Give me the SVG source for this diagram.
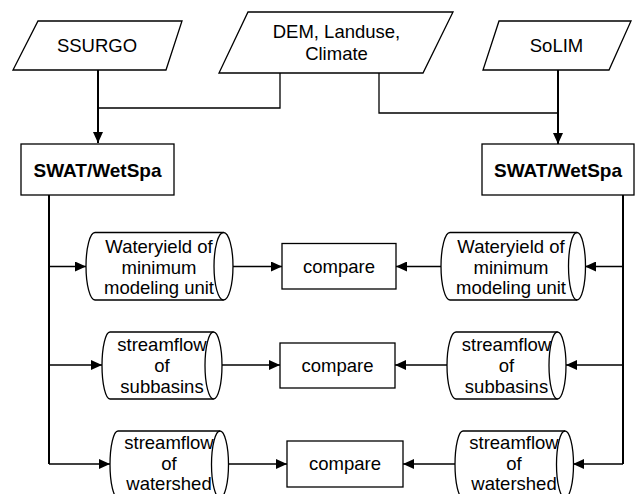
<svg xmlns="http://www.w3.org/2000/svg" width="636" height="494" viewBox="0 0 636 494">
<style>
.s{fill:#fff;stroke:#000;stroke-width:1.3}
.i{fill:none;stroke:#000;stroke-width:1.3}
.t{font-family:"Liberation Sans",Arial,sans-serif;font-size:18.5px;fill:#000;text-anchor:middle}
.b{font-weight:bold;font-size:19px}
.c{fill:none;stroke:#000;stroke-width:1.3}
.m{fill:none;stroke:#000;stroke-width:2}
</style>
<defs>
<marker id="ah" viewBox="0 0 11 10" refX="11" refY="5" markerWidth="11" markerHeight="10" markerUnits="userSpaceOnUse" orient="auto">
<path d="M0,0 L11,5 L0,10 Z" fill="#000"/>
</marker>
</defs>
<g id="connectors">
<path class="c" d="M280 73 V108 H98"/>
<path class="m" d="M98 70 V143" marker-end="url(#ah)"/>
<path class="c" d="M379 73 V113 H558"/>
<path class="m" d="M558 70 V144" marker-end="url(#ah)"/>
<path class="m" d="M49 195 V464"/>
<path class="c" d="M49 464 H110" marker-end="url(#ah)"/>
<path class="c" d="M49 266.5 H86" marker-end="url(#ah)"/>
<path class="c" d="M49 365 H102" marker-end="url(#ah)"/>
<path class="m" d="M623 195 V464"/>
<path class="c" d="M623 464 H573" marker-end="url(#ah)"/>
<path class="c" d="M623 266.5 H585" marker-end="url(#ah)"/>
<path class="c" d="M623 365 H566" marker-end="url(#ah)"/>
<path class="c" d="M233 266.5 H282" marker-end="url(#ah)"/>
<path class="c" d="M222 365 H280" marker-end="url(#ah)"/>
<path class="c" d="M228 464 H287" marker-end="url(#ah)"/>
<path class="c" d="M441 266.5 H396" marker-end="url(#ah)"/>
<path class="c" d="M447 365 H395" marker-end="url(#ah)"/>
<path class="c" d="M455 464 H403" marker-end="url(#ah)"/>
</g>
<g id="ssurgo">
<polygon class="s" points="38,21 182,21 166,70 13,70"/>
<text class="t" x="97" y="52">SSURGO</text>
</g>
<g id="dem">
<polygon class="s" points="248,12 453,12 423,73 219,73"/>
<text class="t" x="336.5" y="38">DEM, Landuse,</text>
<text class="t" x="336.5" y="60">Climate</text>
</g>
<g id="solim">
<polygon class="s" points="499,21 631,21 609,70 483,70"/>
<text class="t" x="556.5" y="52">SoLIM</text>
</g>
<g id="swat-left">
<rect class="s" x="21" y="144" width="153" height="51"/>
<text class="t b" x="97.5" y="177">SWAT/WetSpa</text>
</g>
<g id="swat-right">
<rect class="s" x="482" y="144" width="152" height="51"/>
<text class="t b" x="558" y="177">SWAT/WetSpa</text>
</g>
<g id="wy-left">
<path class="s" d="M95 232.5 A9 33.75 0 0 0 95 300 H223.5 A9.5 33.75 0 0 0 223.5 232.5 Z"/>
<path class="i" d="M223.5 232.5 A9.5 33.75 0 0 0 223.5 300"/>
<text class="t" x="159" y="252.5">Wateryield of</text>
<text class="t" x="159" y="273.5">minimum</text>
<text class="t" x="159" y="294">modeling unit</text>
</g>
<g id="wy-right">
<path class="s" d="M450 232.5 A9 33.75 0 0 0 450 300 H577 A8.5 33.75 0 0 0 577 232.5 Z"/>
<path class="i" d="M577 232.5 A8.5 33.75 0 0 0 577 300"/>
<text class="t" x="511" y="252.5">Wateryield of</text>
<text class="t" x="511" y="273.5">minimum</text>
<text class="t" x="511" y="294">modeling unit</text>
</g>
<g id="cmp1">
<rect class="s" x="282" y="243.5" width="114" height="45.5"/>
<text class="t" x="339" y="272.5">compare</text>
</g>
<g id="sb-left">
<path class="s" d="M110 332 A8 33.5 0 0 0 110 399 H213.5 A8.5 33.5 0 0 0 213.5 332 Z"/>
<path class="i" d="M213.5 332 A8.5 33.5 0 0 0 213.5 399"/>
<text class="t" x="162" y="350.5">streamflow</text>
<text class="t" x="162" y="371.5">of</text>
<text class="t" x="162" y="392.5">subbasins</text>
</g>
<g id="sb-right">
<path class="s" d="M456 332 A9 33.5 0 0 0 456 399 H557.5 A8.5 33.5 0 0 0 557.5 332 Z"/>
<path class="i" d="M557.5 332 A8.5 33.5 0 0 0 557.5 399"/>
<text class="t" x="506.5" y="350.5">streamflow</text>
<text class="t" x="506.5" y="371.5">of</text>
<text class="t" x="506.5" y="392.5">subbasins</text>
</g>
<g id="cmp2">
<rect class="s" x="280" y="343" width="115" height="45"/>
<text class="t" x="337.5" y="371.5">compare</text>
</g>
<g id="ws-left">
<path class="s" d="M118 431 A8 33.5 0 0 0 118 498 H220 A8.5 33.5 0 0 0 220 431 Z"/>
<path class="i" d="M220 431 A8.5 33.5 0 0 0 220 498"/>
<text class="t" x="169" y="449">streamflow</text>
<text class="t" x="169" y="469.5">of</text>
<text class="t" x="169" y="489.5">watershed</text>
</g>
<g id="ws-right">
<path class="s" d="M463 431 A8 33.5 0 0 0 463 498 H565 A8.5 33.5 0 0 0 565 431 Z"/>
<path class="i" d="M565 431 A8.5 33.5 0 0 0 565 498"/>
<text class="t" x="514" y="449">streamflow</text>
<text class="t" x="514" y="469.5">of</text>
<text class="t" x="514" y="489.5">watershed</text>
</g>
<g id="cmp3">
<rect class="s" x="287" y="441" width="116" height="46"/>
<text class="t" x="345" y="470">compare</text>
</g>
</svg>
